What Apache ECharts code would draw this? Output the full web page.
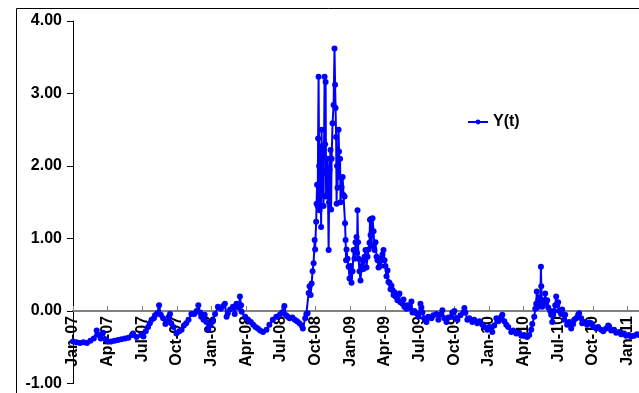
<!DOCTYPE html>
<html>
<head>
<meta charset="utf-8">
<script src="https://cdn.jsdelivr.net/npm/echarts@6/dist/echarts.min.js"></script>
<style>
html,body{margin:0;padding:0;background:#fff;}
#chart{width:639px;height:393px;}
</style>
</head>
<body>
<div id="chart"></div>
<script>
// x positions: months elapsed since 1 Jan 2007
const monthPos = [
0,0.3,0.6,0.9,1.2,1.5,1.8,2.05,2.2,2.4,2.6,2.8,3.0,3.3,3.6,3.9,4.2,4.5,4.8,5.1,5.2,5.5,5.9,6.1,6.3,6.5,6.65,6.8,7.0,7.1,7.3,7.45,7.6,7.8,8.0,8.1,8.3,8.4,8.5,8.7,8.95,9.2,9.4,9.6,9.8,10.0,10.25,10.5,10.7,10.85,11.0,11.1,11.3,11.4,11.55,11.7,11.9,12.1,12.3,12.55,12.8,13.0,13.15,13.3,13.4,13.6,13.85,14.0,14.15,14.35,14.45,14.55,14.6,14.9,15.15,15.4,15.6,15.8,16.0,16.2,16.45,16.75,17.0,17.3,17.6,17.9,18.1,18.3,18.45,18.6,18.75,19.0,19.2,19.4,19.6,19.8,19.9,20.1,20.2,
20.31,20.40,20.48,20.57,20.66,20.74,20.83,20.92,20.96,21.05,21.09,21.13,21.18,21.22,21.26,21.31,21.35,21.39,21.43,21.48,21.52,21.56,21.61,21.65,21.69,21.78,21.82,21.87,21.91,21.95,21.99,22.04,22.13,22.17,22.21,22.30,22.34,22.39,22.47,22.56,22.64,22.69,22.73,22.78,22.82,22.86,22.90,22.99,23.03,23.08,23.12,23.16,23.25,23.34,23.42,23.51,23.55,23.60,23.64,23.68,23.77,23.86,23.94,24.03,24.11,24.20,24.29,24.37,24.46,24.55,24.59,24.63,24.68,24.72,24.81,24.89,24.98,25.06,25.15,25.24,25.32,25.41,25.50,25.58,25.67,25.71,25.76,25.80,25.84,25.93,26.02,26.10,26.19,26.28,26.36,26.45,26.53,26.62,26.71,26.79,26.88,26.97,27.05,27.14,27.23,27.31,27.40,27.49,27.57,27.66,27.75,27.83,27.92,28.09,28.18,28.26,28.35,28.52,28.61,28.69,28.87,28.95,29.13,29.30,29.39,29.56,29.73,29.90,30.08,30.16,30.25,30.42,30.60,30.77,31.03,31.20,31.46,31.63,31.81,31.98,32.15,32.33,32.50,32.76,32.84,33.02,33.19,33.28,33.54,33.80,33.88,33.97,34.14,34.31,34.57,34.74,35.0,35.18,35.44,35.61,35.87,36.04,36.30,36.47,36.65,36.82,36.91,37.08,37.17,37.34,37.51,37.68,37.94,38.11,38.37,38.63,38.81,39.06,39.32,39.50,39.67,39.76,39.93,40.02,40.10,40.15,40.19,40.28,40.36,40.45,40.51,40.54,40.62,40.71,40.80,40.88,40.97,41.05,41.14,41.31,41.40,41.49,41.57,41.66,41.75,41.83,41.92,42.0,42.09,42.26,42.35,42.52,42.61,42.78,42.96,43.13,43.30,43.39,43.56,43.73,43.82,43.99,44.08,44.25,44.51,44.69,44.86,45.03,45.29,45.46,45.72,45.90,46.15,46.33,46.41,46.59,46.84,47.02,47.28,47.45,47.71,47.88,48.14,48.31,48.57,48.83,49.0
];
const yValues = [
-0.42,-0.43,-0.44,-0.43,-0.44,-0.41,-0.38,-0.27,-0.33,-0.38,-0.30,-0.39,-0.42,-0.42,-0.41,-0.40,-0.39,-0.38,-0.37,-0.33,-0.31,-0.36,-0.33,-0.35,-0.28,-0.22,-0.17,-0.12,-0.10,-0.06,-0.03,0.08,-0.05,-0.10,-0.18,-0.15,-0.08,-0.04,-0.17,-0.22,-0.31,-0.28,-0.26,-0.20,-0.17,-0.12,-0.04,-0.04,0.0,0.08,-0.02,-0.08,-0.12,-0.05,-0.15,-0.26,-0.20,-0.13,-0.04,0.06,0.03,0.07,0.10,-0.08,-0.03,0.02,0.06,-0.04,0.10,0.05,0.20,0.08,-0.01,-0.08,-0.12,-0.15,-0.19,-0.22,-0.24,-0.27,-0.29,-0.26,-0.19,-0.12,-0.08,-0.05,-0.02,0.07,-0.06,-0.08,-0.10,-0.09,-0.12,-0.14,-0.17,-0.20,-0.24,-0.10,-0.04,
-0.03,0.25,0.34,0.22,0.38,0.55,0.66,0.98,0.85,1.23,1.48,1.74,1.45,2.38,3.23,2.0,1.39,1.95,2.27,1.16,2.50,1.6,1.94,2.2,1.45,3.23,2.3,3.16,1.58,1.9,1.6,2.1,0.84,1.5,1.95,2.22,1.4,2.1,2.59,2.84,3.62,3.12,2.8,2.40,1.48,2.0,1.7,2.50,2.2,1.85,2.1,1.5,1.71,1.85,1.6,1.58,1.21,0.98,0.70,0.85,0.72,0.61,0.45,0.62,0.39,0.55,0.84,0.72,0.95,1.02,0.8,1.39,0.95,0.72,0.55,0.42,0.62,0.70,0.58,0.75,0.84,0.60,0.75,0.85,0.94,1.26,1.05,1.27,0.9,1.28,1.1,0.84,0.95,0.75,0.70,0.60,0.72,0.62,0.70,0.78,0.84,0.70,0.62,0.48,0.56,0.40,0.39,0.30,0.35,0.29,0.22,0.26,0.20,0.15,0.22,0.24,0.12,0.10,0.16,0.06,0.03,0.08,0.04,0.13,-0.02,0.0,-0.03,-0.08,0.10,0.05,-0.02,-0.10,-0.15,-0.08,-0.10,-0.06,-0.04,-0.12,-0.05,0.01,-0.10,-0.15,-0.09,-0.08,-0.02,0.0,-0.10,-0.12,-0.06,-0.02,0.04,-0.02,-0.12,-0.10,-0.15,-0.12,-0.17,-0.14,-0.19,-0.22,-0.26,-0.22,-0.29,-0.20,-0.10,-0.14,-0.12,-0.08,-0.05,-0.14,-0.19,-0.22,-0.29,-0.27,-0.31,-0.30,-0.34,-0.33,-0.36,-0.33,-0.26,-0.18,-0.08,0.03,0.10,0.27,0.05,0.15,0.19,0.10,0.61,0.34,0.06,0.15,0.10,0.24,0.12,0.15,0.05,0.0,-0.05,-0.15,-0.05,0.0,0.08,0.20,0.08,0.12,0.0,-0.04,0.02,-0.12,-0.05,-0.19,-0.15,-0.24,-0.18,-0.12,-0.10,-0.05,-0.03,-0.10,-0.17,-0.15,-0.19,-0.16,-0.17,-0.21,-0.24,-0.22,-0.26,-0.28,-0.24,-0.20,-0.21,-0.27,-0.26,-0.30,-0.29,-0.32,-0.31,-0.34,-0.33,-0.35,-0.34,-0.32,-0.33
];
const quarterLabels = ['Jan-07','Apr-07','Jul-07','Oct-07','Jan-08','Apr-08','Jul-08','Oct-08','Jan-09','Apr-09','Jul-09','Oct-09','Jan-10','Apr-10','Jul-10','Oct-10','Jan-11'];
const seriesName = 'Y(t)';

const data = monthPos.map((m, i) => [m, yValues[i]]);
const font = 'Liberation Sans, Arial, sans-serif';

// grid geometry: y from -1 (bottom) to 4 (top); x-axis drawn at y = 0
const gridTop = 21, gridBottom = 9.5, chartH = 393;
const plotH = chartH - gridTop - gridBottom;
const zeroOffset = -plotH * (1 / 5);

const chart = echarts.init(document.getElementById('chart'), null, {renderer: 'canvas'});
chart.setOption({
  animation: false,
  backgroundColor: '#ffffff',
  graphic: [{
    type: 'rect', left: 14, top: 6, z: 0,
    shape: {width: 700, height: 500},
    style: {fill: 'none', stroke: '#000', lineWidth: 1}
  }],
  grid: {left: 73, right: 0, top: gridTop, bottom: gridBottom, containLabel: false, outerBoundsMode: 'none'},
  legend: {
    left: 462, top: 109,
    itemWidth: 20, itemHeight: 6, itemGap: 4,
    textStyle: {fontFamily: font, fontWeight: 'bold', fontSize: 16, color: '#000'},
    data: [seriesName]
  },
  xAxis: {
    type: 'value', min: 0, max: 49, interval: 3,
    position: 'bottom', offset: zeroOffset,
    axisLine: {onZero: false, lineStyle: {color: '#808080', width: 2}},
    axisTick: {show: true, inside: true, length: 5, lineStyle: {color: '#808080', width: 1}},
    splitLine: {show: false},
    axisLabel: {
      rotate: 90, margin: 5,
      fontFamily: font, fontWeight: 'bold', fontSize: 16, color: '#000',
      formatter: v => (Math.abs(v % 3) < 1e-9 ? (quarterLabels[Math.round(v / 3)] || '') : '')
    }
  },
  yAxis: {
    type: 'value', min: -1, max: 4, interval: 1,
    axisLine: {show: true, onZero: false, lineStyle: {color: '#000', width: 1}},
    axisTick: {show: true, inside: false, length: 6, lineStyle: {color: '#000'}},
    splitLine: {show: false},
    axisLabel: {
      margin: 11,
      fontFamily: font, fontWeight: 'bold', fontSize: 16, color: '#000',
      formatter: v => v.toFixed(2)
    }
  },
  series: [{
    name: seriesName,
    type: 'line',
    data: data,
    showAllSymbol: true,
    symbol: 'circle', symbolSize: 6,
    lineStyle: {color: '#0000ff', width: 2},
    itemStyle: {color: '#0000ff'},
    z: 3
  }]
});
</script>
</body>
</html>
